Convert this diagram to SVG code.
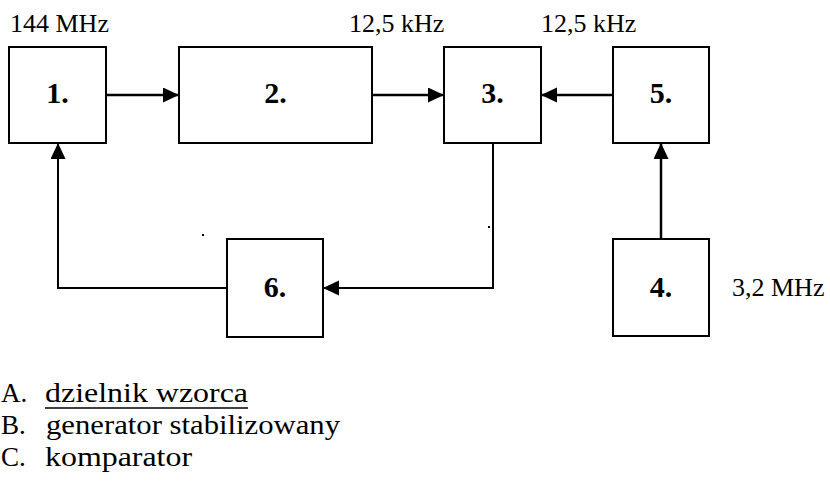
<svg xmlns="http://www.w3.org/2000/svg" width="830" height="481" viewBox="0 0 830 481">
<style>
.box{fill:#fff;stroke:#000;stroke-width:2}
.num{font-weight:bold;font-size:30px;text-anchor:middle;fill:#000}
.lbl{font-size:26px;fill:#000}
.leg{font-size:27px;fill:#000}
.con{fill:none;stroke:#000;stroke-width:2.5}
</style>
<defs>
<marker id="ah" markerUnits="userSpaceOnUse" markerWidth="16" markerHeight="16" refX="16" refY="7.5" orient="auto">
<path d="M0,0 L16,7.5 L0,15 z" fill="#000"/>
</marker>
</defs>
<rect width="830" height="481" fill="#fff"/>
<g id="connectors">
<line class="con" x1="106" y1="95" x2="179" y2="95" marker-end="url(#ah)"/>
<line class="con" x1="372" y1="95" x2="444" y2="95" marker-end="url(#ah)"/>
<line class="con" x1="613" y1="95" x2="541" y2="95" marker-end="url(#ah)"/>
<line class="con" x1="661" y1="239" x2="661" y2="143" marker-end="url(#ah)"/>
<polyline class="con" style="stroke-width:2" points="493,143 493,288 323,288" marker-end="url(#ah)"/>
<polyline class="con" style="stroke-width:2" points="227,288 58,288 58,143" marker-end="url(#ah)"/>
<rect x="202" y="234" width="2" height="2" fill="#000"/>
<rect x="488" y="226" width="2" height="2" fill="#000"/>
</g>
<g font-family="'Liberation Serif', 'Times New Roman', Times, serif">
<g id="node1"><rect class="box" x="9" y="47" width="97" height="96"/><text class="num" x="57.5" y="103">1.</text></g>
<g id="node2"><rect class="box" x="179" y="47" width="193" height="96"/><text class="num" x="275.5" y="103">2.</text></g>
<g id="node3"><rect class="box" x="444" y="47" width="97" height="96"/><text class="num" x="492.5" y="103">3.</text></g>
<g id="node5"><rect class="box" x="613" y="47" width="96" height="96"/><text class="num" x="661" y="103">5.</text></g>
<g id="node6"><rect class="box" x="227" y="239" width="96" height="98"/><text class="num" x="275" y="297">6.</text></g>
<g id="node4"><rect class="box" x="613" y="239" width="96" height="97"/><text class="num" x="661" y="297">4.</text></g>
<g id="labels">
<text class="lbl" x="10" y="32">144 MHz</text>
<text class="lbl" x="349" y="32">12,5 kHz</text>
<text class="lbl" x="541" y="32">12,5 kHz</text>
<text class="lbl" x="732" y="296">3,2 MHz</text>
</g>
<g id="legend">
<text class="leg" x="1" y="402">A.</text>
<text class="leg" x="45" y="402" textLength="203" lengthAdjust="spacingAndGlyphs">dzielnik wzorca</text>
<line x1="45" y1="408" x2="248" y2="408" stroke="#000" stroke-width="1.5"/>
<text class="leg" x="1" y="434">B.</text>
<text class="leg" x="46" y="434" textLength="294" lengthAdjust="spacingAndGlyphs">generator stabilizowany</text>
<text class="leg" x="1" y="466">C.</text>
<text class="leg" x="45" y="466" textLength="147" lengthAdjust="spacingAndGlyphs">komparator</text>
</g>
</g>
</svg>
